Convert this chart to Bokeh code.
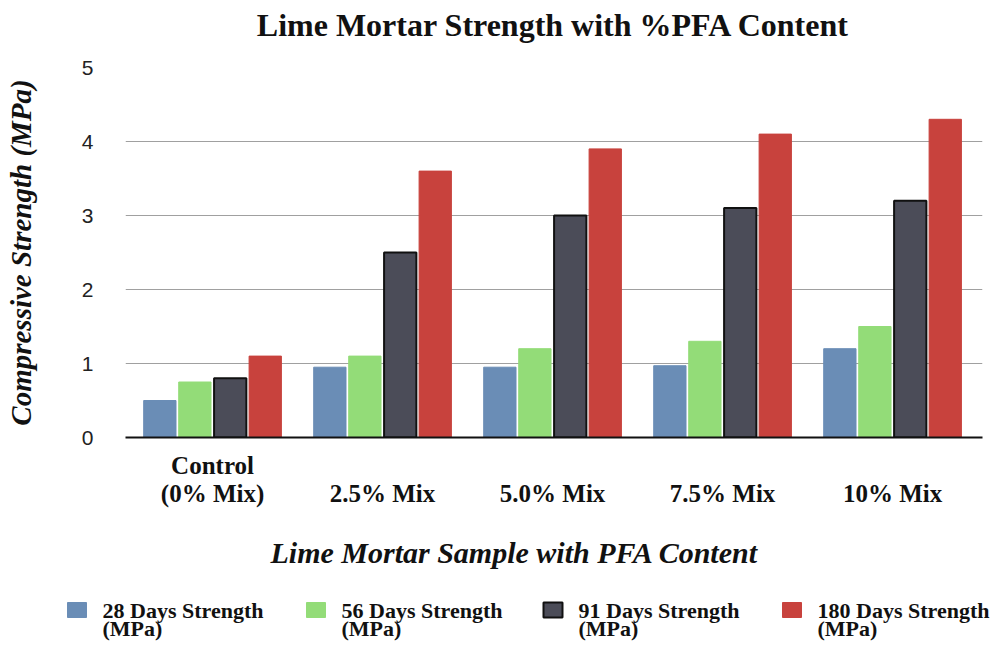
from bokeh.plotting import figure
from bokeh.layouts import column
from bokeh.models import ColumnDataSource, FixedTicker, Range1d, Title
from bokeh.core.properties import value
from bokeh.embed import file_html
from bokeh.resources import INLINE

title_text = "Lime Mortar Strength with %PFA Content"
categories = ["Control\n(0% Mix)", "\n2.5% Mix", "\n5.0% Mix", "\n7.5% Mix", "\n10% Mix"]
series_names = ["28 Days Strength\n(MPa)", "56 Days Strength\n(MPa)",
                "91 Days Strength\n(MPa)", "180 Days Strength\n(MPa)"]
s28 = [0.5, 0.95, 0.95, 0.97, 1.2]
s56 = [0.75, 1.1, 1.2, 1.3, 1.5]
s91 = [0.8, 2.5, 3.0, 3.1, 3.2]
s180 = [1.1, 3.6, 3.9, 4.1, 4.3]
y_ticks = [0, 1, 2, 3, 4, 5]

# styles / layout
colors = ["#6a8db6", "#93dc78", "#4b4c58", "#c8423d"]
line_colors = ["#6a8db6", "#93dc78", "#111111", "#c8423d"]
offsets = [-0.31, -0.104, 0.104, 0.31]
legend_left = [67, 306, 543, 782]
serif = "Liberation Serif"
W = 990
HH = 50     # header strip height
LH = 46     # legend strip height
MH = 546    # main figure height


def strip(h):
    f = figure(width=W, height=h, output_backend="svg", toolbar_location=None,
               x_range=Range1d(0, W), y_range=Range1d(h, 0), min_border=0)
    f.axis.visible = False
    f.grid.grid_line_color = None
    f.outline_line_color = None
    return f


# header with title
hd = strip(HH)
hd.text(x=[553], y=[24], text=[title_text], text_font=value(serif),
        text_font_style="bold", text_font_size="32px", text_color="#111111",
        text_align="center", text_baseline="middle")

p = figure(width=W, height=MH, output_backend="svg", toolbar_location=None,
           x_range=Range1d(-0.512, 4.529), y_range=Range1d(0, 5.0),
           min_border_left=125, min_border_right=W - 982, min_border_top=67 - HH,
           min_border_bottom=159)
p.outline_line_color = None

x_idx = list(range(len(categories)))
for k, vals in enumerate([s28, s56, s91, s180]):
    src = ColumnDataSource(dict(x=[i + offsets[k] for i in x_idx], top=vals))
    p.vbar(x="x", top="top", width=0.19, bottom=0, source=src,
           fill_color=colors[k], line_color=line_colors[k],
           line_width=2 if k == 2 else 1)

# axes
p.xaxis.ticker = FixedTicker(ticks=x_idx)
p.xaxis.major_label_overrides = {i: c for i, c in enumerate(categories)}
p.xaxis.major_label_text_font = serif
p.xaxis.major_label_text_font_style = "bold"
p.xaxis.major_label_text_font_size = "25px"
p.xaxis.major_label_text_line_height = 1.05
p.xaxis.major_label_text_color = "#111111"
p.xaxis.major_tick_line_color = None
p.xaxis.minor_tick_line_color = None
p.xaxis.axis_line_color = "#111111"
p.xaxis.axis_line_width = 2
p.xaxis.major_label_standoff = 8

xtitle = Title(text="Lime Mortar Sample with PFA Content", align="left", offset=145,
               text_font=serif, text_font_style="bold italic", text_font_size="30px",
               text_color="#111111", standoff=48)
p.add_layout(xtitle, "below")

p.yaxis.ticker = FixedTicker(ticks=y_ticks)
p.yaxis.major_label_text_font = "Liberation Sans"
p.yaxis.major_label_text_font_size = "21px"
p.yaxis.major_label_text_color = "#222222"
p.yaxis.major_tick_line_color = None
p.yaxis.minor_tick_line_color = None
p.yaxis.axis_line_color = None
p.yaxis.major_label_standoff = 26
p.yaxis.axis_label = "Compressive Strength (MPa)"
p.yaxis.axis_label_text_font = serif
p.yaxis.axis_label_text_font_style = "bold italic"
p.yaxis.axis_label_text_font_size = "29px"
p.yaxis.axis_label_text_color = "#111111"
p.yaxis.axis_label_standoff = 42

p.xgrid.grid_line_color = None
p.ygrid.grid_line_color = "#a0a0a0"
p.ygrid.grid_line_width = 1

# legend strip
lg = strip(LH)
first = [n.split("\n")[0] for n in series_names]
second = [n.split("\n")[1] for n in series_names]
lg.rect(x=[l + 9.5 for l in legend_left], y=[13.5] * 4, width=19, height=15,
        fill_color=colors, line_color=line_colors, line_width=[1, 1, 2, 1])
for txt, yy in ((first, 14), (second, 32)):
    lg.text(x=[l + 35 for l in legend_left], y=[yy] * 4, text=txt,
            text_font=value(serif), text_font_style="bold", text_font_size="22px",
            text_color="#111111", text_baseline="middle")

for fig in (hd, p, lg):
    if "frame_align" in fig.properties():
        fig.frame_align = False

layout = column(hd, p, lg, spacing=0)
open("out.html", "w").write(file_html(layout, INLINE))
